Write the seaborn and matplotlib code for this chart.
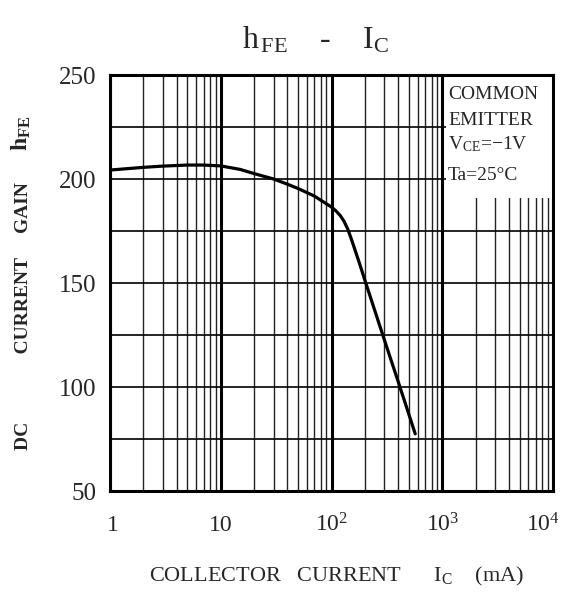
import matplotlib
matplotlib.use("Agg")
import matplotlib.pyplot as plt
import matplotlib.patches as patches
from matplotlib.ticker import LogLocator, NullFormatter, FixedLocator
from matplotlib.transforms import ScaledTranslation
import seaborn as sns
import pandas as pd

# ---- data ----
ic_ma = [1, 2, 3, 5, 7, 10, 15, 20, 30, 40, 50, 70, 100, 110, 120, 130, 140, 150, 160, 180,
         200, 300, 400, 570]
hfe = [204.3, 205.6, 206.2, 206.7, 206.7, 206.3, 204.6, 202.6, 200.0, 197.5, 195.4, 191.8,
       186.5, 184.6, 182.4, 179.6, 176.0, 171.6, 167.2, 159.0, 151.4, 122.7, 102.6, 77.5]

x_ticks = [1, 10, 100, 1000, 10000]
x_tick_labels = ["1", "10", "$10^2$", "$10^3$", "$10^4$"]
y_ticks = [50, 100, 150, 200, 250]
y_minor = [75, 125, 175, 225]
note_lines = ["COMMON", "EMITTER", "V$_{\\mathrm{CE}}$=\u22121V", "Ta=25\u00b0C"]

df = pd.DataFrame({"ic": ic_ma, "hfe": hfe})

sns.set_style("white")
plt.rcParams["font.family"] = ["Liberation Serif", "DejaVu Serif"]
plt.rcParams["mathtext.fontset"] = "custom"
plt.rcParams["mathtext.rm"] = "Liberation Serif"
plt.rcParams["mathtext.bf"] = "Liberation Serif:bold"
plt.rcParams["mathtext.it"] = "Liberation Serif:italic"

fig = plt.figure(figsize=(5.65, 5.99), dpi=100)
ax = fig.add_axes([110 / 565, 1 - 491 / 599, 443 / 565, 416 / 599])

sns.lineplot(data=df, x="ic", y="hfe", color="black", lw=2.3, ax=ax, zorder=3)

ax.set_xscale("log")
ax.set_xlim(1, 10000)
ax.set_ylim(50, 250)

ax.xaxis.set_major_locator(FixedLocator(x_ticks))
ax.set_xticklabels(x_tick_labels, fontsize=17)
ax.xaxis.set_minor_locator(LogLocator(base=10, subs=range(2, 10)))
ax.xaxis.set_minor_formatter(NullFormatter())
ax.set_yticks(y_ticks)
ax.set_yticklabels([str(v) for v in y_ticks], fontsize=18)
ax.set_yticks(y_minor, minor=True)

ax.tick_params(which="both", length=0)
ax.tick_params(axis="y", pad=10)
ax.tick_params(axis="x", pad=29)
xlabs = ax.get_xticklabels()
for lab in xlabs:
    lab.set_verticalalignment("baseline")
xlabs[0].set_transform(xlabs[0].get_transform() + ScaledTranslation(3 / 100, 0, fig.dpi_scale_trans))
xlabs[-1].set_transform(xlabs[-1].get_transform() + ScaledTranslation(-10 / 100, 0, fig.dpi_scale_trans))

ax.set_axisbelow(True)
ax.grid(which="major", axis="x", color="black", lw=2.2)
ax.grid(which="minor", axis="x", color="#222222", lw=1.0)
ax.grid(which="both", axis="y", color="black", lw=1.2)

for sp in ax.spines.values():
    sp.set_visible(True)
    sp.set_color("black")
    sp.set_linewidth(2.2)

# white box for the conditions note
ax.add_patch(patches.Rectangle((1080, 191), 10000 - 1080, 59,
                               facecolor="white", edgecolor="none", zorder=1))
for txt, yv in zip(note_lines, [240.6, 227.9, 216.8, 201.9]):
    ax.text(1130, yv, txt, fontsize=14, va="center", ha="left", zorder=4)

ax.set_xlabel("COLLECTOR   CURRENT      I$_{\\mathrm{C}}$    (mA)", fontsize=16)
ax.xaxis.set_label_coords(0.512, -0.178)
ax.set_ylabel("DC              CURRENT     GAIN", fontsize=14, fontweight="bold")
ax.yaxis.set_label_coords(-0.175, 0.4195)
fig.text(21 / 565, 1 - 133 / 599, "h$_{\\mathbf{FE}}$", fontsize=17, fontweight="bold",
         rotation=90, ha="center", va="center")

ax.text(0.463, 1.084, "h$_{\\,\\mathrm{FE}}$    -    I$_{\\mathrm{C}}$", fontsize=23,
        transform=ax.transAxes, ha="center", va="center")

plt.savefig("out.png", dpi=100)
plt.close()
